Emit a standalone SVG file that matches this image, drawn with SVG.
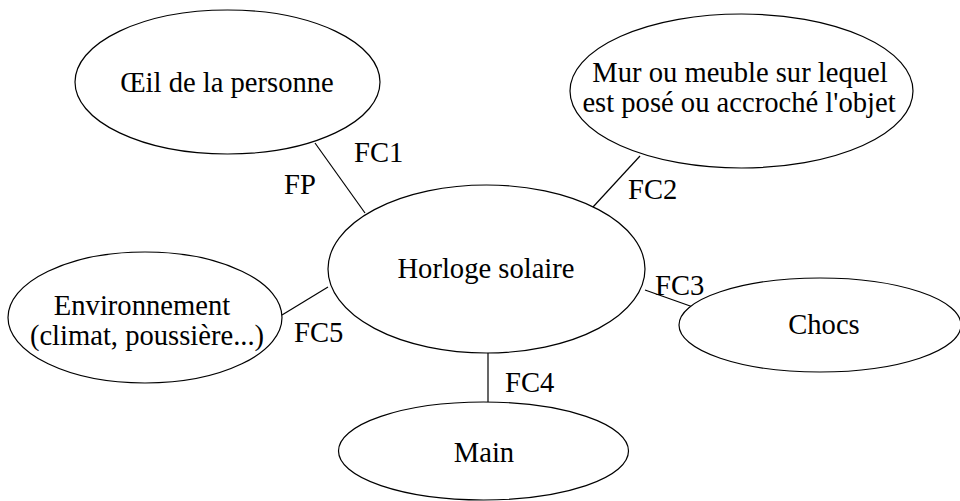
<svg xmlns="http://www.w3.org/2000/svg" width="960" height="501" viewBox="0 0 960 501">
<style>
.n{fill:#fff;stroke:#000;stroke-width:1.2}
text{font-family:'Liberation Serif','DejaVu Serif',serif;font-size:28.6px;fill:#000}
.t{text-anchor:middle}
.c line{stroke:#000;stroke-width:1.2}
</style>
<rect width="960" height="501" fill="#fff"/>
<g id="connectors" class="c">
<line x1="315" y1="143" x2="365" y2="213"/>
<line x1="640" y1="156" x2="593" y2="207"/>
<line x1="645" y1="290" x2="693" y2="307"/>
<line x1="328" y1="287" x2="282" y2="315"/>
<line x1="488" y1="353" x2="488" y2="402"/>
</g>
<g id="oeil"><ellipse class="n" cx="227.5" cy="82" rx="152.5" ry="72"/><text class="t" x="227" y="92">Œil de la personne</text></g>
<g id="mur"><ellipse class="n" cx="741.5" cy="91" rx="171.5" ry="77"/><text class="t" x="740" y="82">Mur ou meuble sur lequel</text><text class="t" x="739" y="112">est posé ou accroché l'objet</text></g>
<g id="horloge"><ellipse class="n" cx="486.5" cy="269" rx="158.5" ry="84"/><text class="t" x="486" y="278">Horloge solaire</text></g>
<g id="environnement"><ellipse class="n" cx="145" cy="317.5" rx="137" ry="65.5"/><text class="t" x="142" y="315">Environnement</text><text class="t" x="147" y="345">(climat, poussière...)</text></g>
<g id="chocs"><ellipse class="n" cx="820" cy="325" rx="141" ry="47"/><text class="t" x="824" y="334">Chocs</text></g>
<g id="main"><ellipse class="n" cx="483.5" cy="451" rx="145" ry="49"/><text class="t" x="484" y="462">Main</text></g>
<g id="labels">
<text x="284" y="194">FP</text>
<text x="354" y="162">FC1</text>
<text x="628" y="199">FC2</text>
<text x="655" y="295">FC3</text>
<text x="505" y="392">FC4</text>
<text x="294" y="342">FC5</text>
</g>
</svg>
